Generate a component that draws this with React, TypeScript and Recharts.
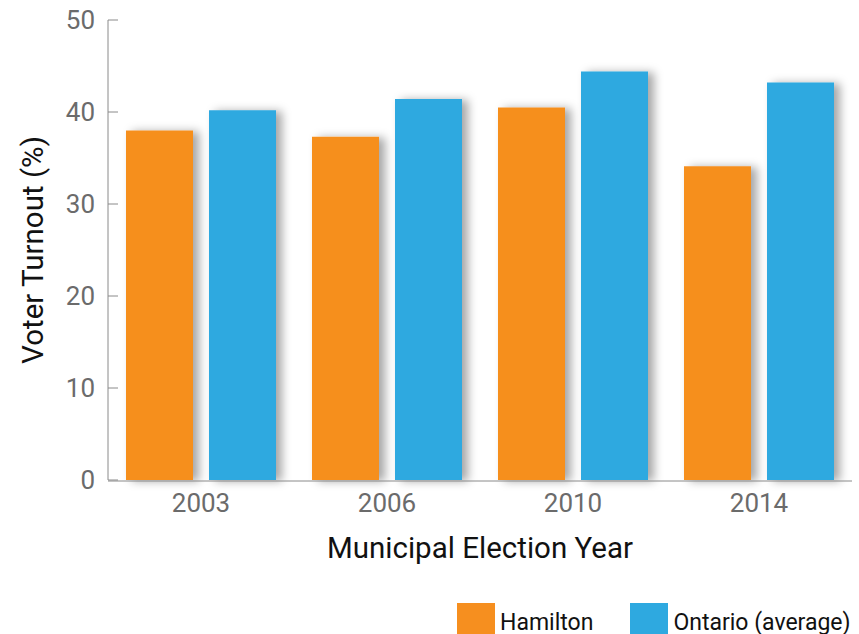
import React from 'react';
import { BarChart, Bar, XAxis, YAxis, Legend } from 'recharts';

const years = ['2003', '2006', '2010', '2014'];
const hamilton = [38.0, 37.3, 40.5, 34.1];
const ontario = [40.2, 41.4, 44.4, 43.2];
const yTicks = [0, 10, 20, 30, 40, 50];
const boundaryTicks = [0, 1, 2, 3, 4];

const data = years.map((y, i) => ({ year: y, Hamilton: hamilton[i], 'Ontario (average)': ontario[i] }));

const FONT = 'Roboto, "Noto Sans", sans-serif';
const AXIS_GREY = '#8a8a8a';
const TICK_GREY = '#6b6b6b';

const LegendContent = (props: any) => {
  const payload = props.payload || [];
  return (
    <div style={{ display: 'flex', whiteSpace: 'nowrap', fontFamily: FONT, fontSize: 23, color: '#111' }}>
      {payload.map((entry: any, i: number) => (
        <div key={i} style={{ display: 'flex', alignItems: 'center', marginRight: i === 0 ? 37 : 0 }}>
          <div style={{ width: 38, height: 38, background: entry.color }} />
          <span style={{ marginLeft: 5 }}>{entry.value}</span>
        </div>
      ))}
    </div>
  );
};

export default function App() {
  return (
    <div style={{ position: 'absolute', left: 0, top: 0, fontFamily: FONT }}>
      <BarChart
        width={859}
        height={634}
        data={data}
        margin={{ top: 20, right: 7, bottom: 152, left: 0 }}
        barCategoryGap={18}
        barGap={16}
      >
        <defs>
          <filter id="barShadow" x="-20%" y="-10%" width="160%" height="130%">
            <feDropShadow dx="6" dy="1" stdDeviation="5" floodColor="#000" floodOpacity="0.35" />
          </filter>
        </defs>
        <XAxis
          xAxisId="bounds"
          type="number"
          domain={[0, 4]}
          ticks={boundaryTicks}
          tick={false}
          height={1}
          tickSize={-11}
          stroke={AXIS_GREY}
          allowDataOverflow
        />
        <XAxis
          dataKey="year"
          height={1}
          axisLine={false}
          tickLine={false}
          tickSize={0}
          tickMargin={14}
          tick={{ fill: TICK_GREY, fontSize: 26, fontFamily: FONT }}
          label={{ value: 'Municipal Election Year', position: 'bottom', offset: 56, fill: '#111', fontSize: 29.5, fontFamily: FONT }}
        />
        <YAxis
          width={108}
          domain={[0, 50]}
          ticks={yTicks}
          tickSize={-10}
          tickMargin={23}
          stroke={AXIS_GREY}
          tick={{ fill: TICK_GREY, fontSize: 26, fontFamily: FONT }}
          label={{ value: 'Voter Turnout (%)', angle: -90, position: 'insideLeft', offset: 33, fill: '#111', fontSize: 29.5, fontFamily: FONT, style: { textAnchor: 'middle' } }}
        />
        <Legend
          layout="horizontal"
          verticalAlign="middle"
          align="center"
          content={<LegendContent />}
          wrapperStyle={{ position: 'absolute', left: 457, top: 603, width: 'max-content' }}
        />
        <Bar dataKey="Hamilton" fill="#F68F1F" isAnimationActive={false} filter="url(#barShadow)" />
        <Bar dataKey="Ontario (average)" fill="#2EA9E0" isAnimationActive={false} filter="url(#barShadow)" />
      </BarChart>
    </div>
  );
}
